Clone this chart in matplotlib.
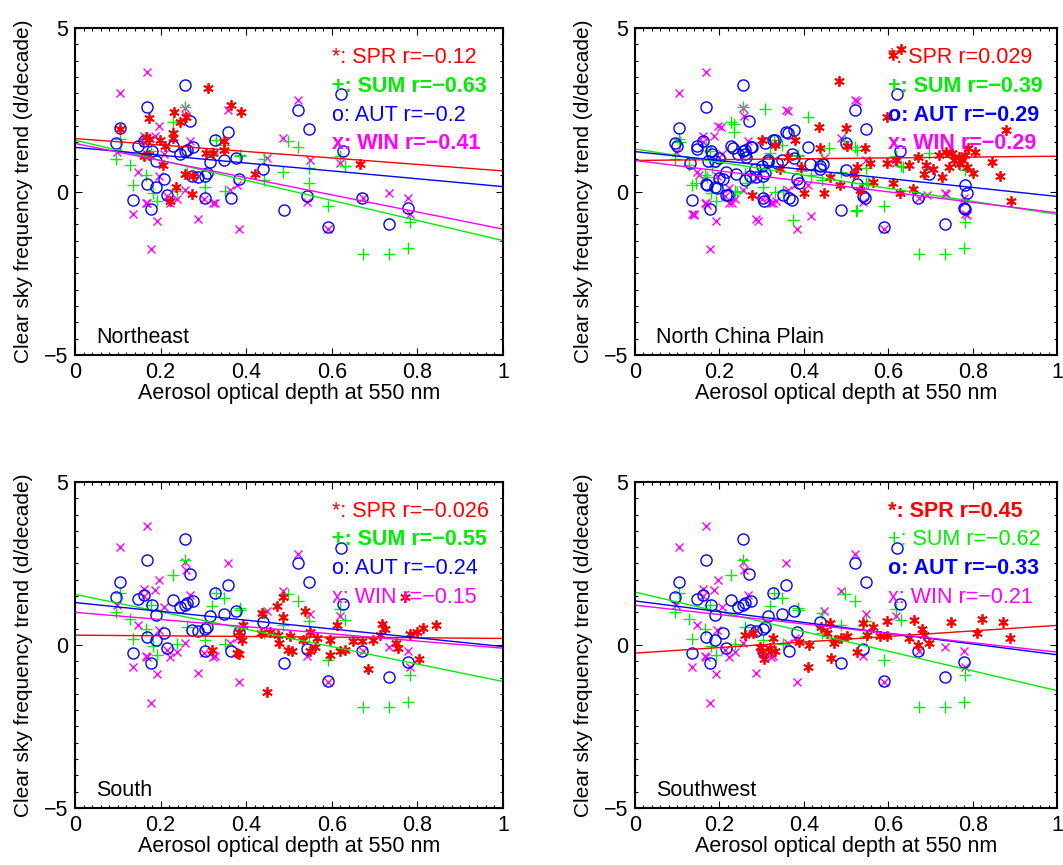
import numpy as np
import matplotlib
matplotlib.use('Agg')
import matplotlib.pyplot as plt
from matplotlib.ticker import MultipleLocator, FixedLocator

plt.rcParams['font.family'] = ['Liberation Sans', 'DejaVu Sans']

regions = ['Northeast', 'North China Plain', 'South', 'Southwest']
seasons = ['SPR', 'SUM', 'AUT', 'WIN']
symbols = ['*', '+', 'o', 'x']
colors = ['#ff0000', '#00ee00', '#0000ff', '#ff00ff']

# r values shown in each panel, and which ones are printed bold
r_values = [['\u22120.12', '\u22120.63', '\u22120.2', '\u22120.41'],
            ['0.029', '\u22120.39', '\u22120.29', '\u22120.29'],
            ['\u22120.026', '\u22120.55', '\u22120.24', '\u22120.15'],
            ['0.45', '\u22120.62', '\u22120.33', '\u22120.21']]
r_bold = [[0, 1, 0, 1],
          [0, 1, 1, 1],
          [0, 1, 0, 0],
          [1, 0, 1, 0]]

# regression lines: value at AOD=0 and AOD=1 (SPR, SUM, AUT, WIN)
fit_at0 = [[1.62, 1.57, 1.35, 1.47],
           [0.95, 1.30, 1.22, 0.95],
           [0.30, 1.55, 1.30, 1.00],
           [-0.25, 1.62, 1.35, 1.22]]
fit_at1 = [[0.63, -1.50, 0.15, -1.15],
           [1.08, -0.70, -0.15, -0.65],
           [0.20, -1.12, -0.05, -0.10],
           [0.60, -1.40, -0.30, -0.22]]

# points shared by all panels (SUM, AUT, WIN)
base_sum_x = [0.104, 0.095, 0.128, 0.136, 0.166, 0.181, 0.192, 0.238, 0.257, 0.228, 0.261, 0.304,
              0.320, 0.349, 0.329, 0.351, 0.386, 0.442, 0.442, 0.487, 0.498, 0.522, 0.547, 0.547,
              0.619, 0.631, 0.590, 0.783, 0.672, 0.734, 0.779, 0.385, 0.178]
base_sum_y = [1.60, 1.00, 0.80, 0.19, 0.50, -0.04, -0.30, 0.03, 2.59, 2.13, 0.56, 0.15,
              1.18, 1.43, 1.58, 0.03, 1.12, 0.99, 0.36, 0.61, 1.55, 1.35, 0.72, 0.26,
              1.09, 0.77, -0.45, -0.92, -1.91, -1.91, -1.74, 1.08, 1.23]
base_aut_x = [0.095, 0.104, 0.146, 0.160, 0.167, 0.179, 0.189, 0.208, 0.167, 0.189, 0.216, 0.136,
              0.178, 0.228, 0.245, 0.257, 0.261, 0.275, 0.257, 0.269, 0.273, 0.287, 0.304, 0.308,
              0.315, 0.326, 0.349, 0.358, 0.376, 0.384, 0.365, 0.304, 0.439, 0.522, 0.547, 0.621,
              0.627, 0.541, 0.489, 0.671, 0.779, 0.590, 0.734]
base_aut_y = [1.48, 1.93, 1.40, 1.53, 2.59, 1.23, 0.92, 0.38, 0.23, 0.15, -0.10, -0.26,
              -0.54, 1.38, 1.16, 1.23, 1.28, 1.36, 3.25, 2.17, 0.46, 0.44, 0.48, 0.56,
              0.89, 1.58, 0.95, 1.83, 1.04, 0.39, -0.20, -0.20, 0.69, 2.50, 1.92, 2.97,
              1.25, -0.13, -0.56, -0.20, -0.51, -1.10, -0.99]
base_win_x = [0.167, 0.104, 0.197, 0.160, 0.187, 0.257, 0.259, 0.357, 0.522, 0.487, 0.548, 0.619,
              0.448, 0.146, 0.195, 0.207, 0.160, 0.257, 0.238, 0.214, 0.166, 0.302, 0.326, 0.362,
              0.378, 0.268, 0.097, 0.779, 0.136, 0.167, 0.191, 0.178, 0.222, 0.287, 0.323, 0.384,
              0.541, 0.590, 0.672, 0.734, 0.783]
base_win_y = [3.65, 3.00, 1.99, 1.71, 1.69, 2.55, 2.30, 2.50, 2.80, 1.64, 0.96, 0.88,
              1.03, 0.60, 0.46, 1.16, 1.50, 0.06, -0.23, -0.15, -0.35, -0.24, -0.34, 0.05,
              0.20, 1.53, 1.22, -0.20, -0.68, -0.36, -0.90, -1.77, -0.36, -0.85, -0.36, -1.15,
              -0.33, -1.15, -0.19, -0.06, -0.68]

# extra points seen only in the North China Plain panel
ncp_sum_x = [0.409, 0.308, 0.234, 0.234, 0.107, 0.167, 0.183, 0.144, 0.171, 0.242, 0.265, 0.331,
             0.393, 0.417, 0.459, 0.526, 0.526, 0.553, 0.635, 0.696, 0.781, 0.375, 0.523]
ncp_sum_y = [2.29, 2.51, 2.08, 1.83, 1.52, 1.37, 0.76, 0.25, 0.45, -0.03, 0.25, -0.03,
             0.62, 0.52, 1.32, 1.27, -0.57, 0.25, 0.76, 1.17, 0.66, -0.87, -0.60]
ncp_aut_x = [0.100, 0.146, 0.130, 0.172, 0.182, 0.200, 0.232, 0.261, 0.262, 0.278, 0.308, 0.331,
             0.362, 0.376, 0.409, 0.372, 0.314, 0.337, 0.300, 0.284, 0.415, 0.439, 0.446, 0.500,
             0.500, 0.216, 0.240, 0.261, 0.199, 0.170, 0.195, 0.221, 0.306, 0.351, 0.371, 0.389,
             0.526, 0.545, 0.696, 0.781, 0.787, 0.783]
ncp_aut_y = [1.38, 1.29, 0.87, 0.93, 1.14, 1.03, 1.32, 1.16, 1.05, 1.35, 1.47, 1.58,
             1.78, 1.88, 1.37, 1.16, 0.96, 0.88, 0.77, 0.70, 0.84, 0.78, 0.85, 0.67,
             1.48, 0.60, 0.55, 0.35, 0.40, 0.19, 0.11, -0.10, -0.30, -0.11, -0.27, 0.25,
             0.23, -0.19, 0.55, 0.20, -0.06, -0.55]
ncp_win_x = [0.526, 0.362, 0.203, 0.152, 0.222, 0.288, 0.315, 0.335, 0.693, 0.736, 0.783, 0.140,
             0.171, 0.230, 0.409, 0.140, 0.417, 0.292, 0.787]
ncp_win_y = [2.77, 2.47, 1.96, 0.50, 0.10, 0.40, -0.18, -0.29, -0.11, -0.08, -0.31, -0.69,
             -0.40, -0.34, 0.20, -0.72, -0.75, -0.89, -0.72]

# spring points per region
ne_spr_x = [0.104, 0.172, 0.166, 0.172, 0.310, 0.364, 0.388, 0.232, 0.245, 0.230, 0.228, 0.199,
            0.210, 0.172, 0.160, 0.306, 0.323, 0.349, 0.349, 0.259, 0.257, 0.276, 0.236, 0.273,
            0.421, 0.666, 0.221, 0.205]
ne_spr_y = [1.90, 2.26, 1.68, 1.60, 3.18, 2.66, 2.44, 2.44, 2.13, 1.78, 1.65, 1.57,
            1.39, 1.12, 1.09, 1.18, 1.18, 1.54, 1.27, 2.29, 0.55, 0.47, 0.14, -0.07,
            0.54, 0.84, -0.29, 0.81]
ncp_spr_x = [0.631, 0.611, 0.483, 0.596, 0.436, 0.500, 0.880, 0.300, 0.331, 0.378, 0.438, 0.545,
             0.502, 0.790, 0.752, 0.736, 0.720, 0.767, 0.775, 0.783, 0.806, 0.767, 0.755, 0.845,
             0.670, 0.650, 0.689, 0.705, 0.685, 0.728, 0.802, 0.865, 0.619, 0.596, 0.557, 0.526,
             0.518, 0.463, 0.564, 0.611, 0.486, 0.533, 0.658, 0.627, 0.892, 0.401, 0.448, 0.276,
             0.362, 0.343, 0.393, 0.787, 0.744]
ncp_spr_y = [4.35, 4.17, 3.38, 2.29, 1.98, 1.95, 1.88, 1.57, 1.42, 1.57, 1.32, 1.32,
             1.39, 1.32, 1.17, 1.22, 1.11, 1.06, 0.96, 1.11, 1.22, 0.85, 0.96, 0.91,
             1.06, 0.81, 0.81, 0.70, 0.55, 0.45, 0.58, 0.48, 0.96, 0.86, 0.86, 0.76,
             0.54, 0.45, 0.30, 0.25, 0.20, 0.04, 0.09, -0.06, -0.29, -0.06, -0.06, -0.11,
             1.06, 0.70, 0.76, 0.75, 0.75]
s_spr_x = [0.771, 0.487, 0.471, 0.537, 0.487, 0.436, 0.611, 0.549, 0.717, 0.725, 0.713, 0.814,
           0.844, 0.783, 0.799, 0.751, 0.755, 0.697, 0.670, 0.650, 0.596, 0.565, 0.561, 0.549,
           0.533, 0.502, 0.475, 0.456, 0.434, 0.389, 0.384, 0.393, 0.319, 0.378, 0.477, 0.498,
           0.506, 0.596, 0.619, 0.684, 0.804, 0.448, 0.382, 0.630]
s_spr_y = [1.46, 1.48, 1.20, 1.05, 0.86, 0.98, 0.60, 0.40, 0.64, 0.48, 0.31, 0.53,
           0.61, 0.35, 0.40, 0.05, -0.10, 0.15, 0.12, 0.12, 0.15, 0.21, -0.05, -0.20,
           0.15, 0.28, 0.31, 0.41, 0.36, 0.15, 0.41, 0.61, -0.15, -0.26, 0.05, -0.15,
           -0.20, -0.31, -0.20, -0.74, -0.43, -1.45, -0.28, -0.15]
sw_spr_x = [0.596, 0.662, 0.748, 0.823, 0.871, 0.810, 0.888, 0.681, 0.685, 0.697, 0.670, 0.650,
            0.596, 0.580, 0.549, 0.565, 0.541, 0.502, 0.487, 0.471, 0.456, 0.463, 0.440, 0.413,
            0.389, 0.327, 0.280, 0.261, 0.296, 0.320, 0.331, 0.306, 0.464, 0.526, 0.411, 0.475,
            0.300, 0.323]
sw_spr_y = [0.72, 0.75, 0.69, 0.79, 0.70, 0.38, 0.20, 0.48, 0.31, 0.05, 0.00, 0.20,
            0.26, 0.28, 0.31, 0.56, 0.66, 0.26, 0.20, 0.05, 0.36, 0.66, 0.56, 0.00,
            0.10, 0.20, 0.36, 0.31, -0.05, -0.10, -0.20, -0.44, -0.41, -0.22, -0.69, 0.15,
            -0.20, -0.20]

spr_x = [ne_spr_x, ncp_spr_x, s_spr_x, sw_spr_x]
spr_y = [ne_spr_y, ncp_spr_y, s_spr_y, sw_spr_y]

fig = plt.figure(figsize=(10.63, 8.65), dpi=100)
positions = [[0.0706, 0.5896, 0.4026, 0.378],
             [0.5974, 0.5896, 0.3970, 0.378],
             [0.0706, 0.0659, 0.4026, 0.377],
             [0.5974, 0.0659, 0.3970, 0.377]]

fs = 15.5

for i in range(4):
    ax = fig.add_axes(positions[i])

    pts_x = [spr_x[i], list(base_sum_x), list(base_aut_x), list(base_win_x)]
    pts_y = [spr_y[i], list(base_sum_y), list(base_aut_y), list(base_win_y)]
    if i == 1:
        pts_x[1] = pts_x[1] + ncp_sum_x
        pts_y[1] = pts_y[1] + ncp_sum_y
        pts_x[2] = pts_x[2] + ncp_aut_x
        pts_y[2] = pts_y[2] + ncp_aut_y
        pts_x[3] = pts_x[3] + ncp_win_x
        pts_y[3] = pts_y[3] + ncp_win_y

    # points
    ax.plot(pts_x[3], pts_y[3], 'x', color=colors[3], ms=6, mew=1.0, ls='none')
    ax.plot(pts_x[1], pts_y[1], '+', color=colors[1], ms=8, mew=1.0, ls='none')
    ax.plot(pts_x[2], pts_y[2], 'o', mfc='none', mec=colors[2], ms=8, mew=1.0, ls='none')
    ax.plot(pts_x[0], pts_y[0], marker=(6, 2, 0), color=colors[0], ms=7.5, mew=1.3, ls='none')

    # regression lines
    for k in range(4):
        ax.plot([0, 1], [fit_at0[i][k], fit_at1[i][k]], color=colors[k], lw=1.0)

    # labels inside the panel
    for k in range(4):
        ax.text(0.6, 4.1 - 0.88 * k, symbols[k] + ': ' + seasons[k] + ' r=' + r_values[i][k],
                color=colors[k], fontsize=fs, va='center', ha='left',
                fontweight='bold' if r_bold[i][k] else 'normal')
    ax.text(0.05, -4.45, regions[i], fontsize=fs, va='center', ha='left')

    ax.set_xlim(0, 1)
    ax.set_ylim(-5, 5)
    ax.xaxis.set_major_locator(FixedLocator([0, 0.2, 0.4, 0.6, 0.8, 1.0]))
    ax.set_xticklabels(['0', '0.2', '0.4', '0.6', '0.8', '1'])
    ax.xaxis.set_minor_locator(MultipleLocator(0.02))
    ax.yaxis.set_major_locator(FixedLocator([-5, 0, 5]))
    ax.yaxis.set_minor_locator(MultipleLocator(0.5))
    ax.tick_params(which='both', direction='in', top=True, right=True, labelsize=fs, width=0.8)
    ax.tick_params(which='major', length=5, pad=5)
    ax.tick_params(which='minor', length=2.5)
    for sp in ax.spines.values():
        sp.set_linewidth(1.5)
    ax.set_xlabel('Aerosol optical depth at 550 nm', fontsize=fs, labelpad=0)
    ax.set_ylabel('Clear sky frequency trend (d/decade)', fontsize=15, labelpad=8)

fig.savefig('out.png', dpi=100)
